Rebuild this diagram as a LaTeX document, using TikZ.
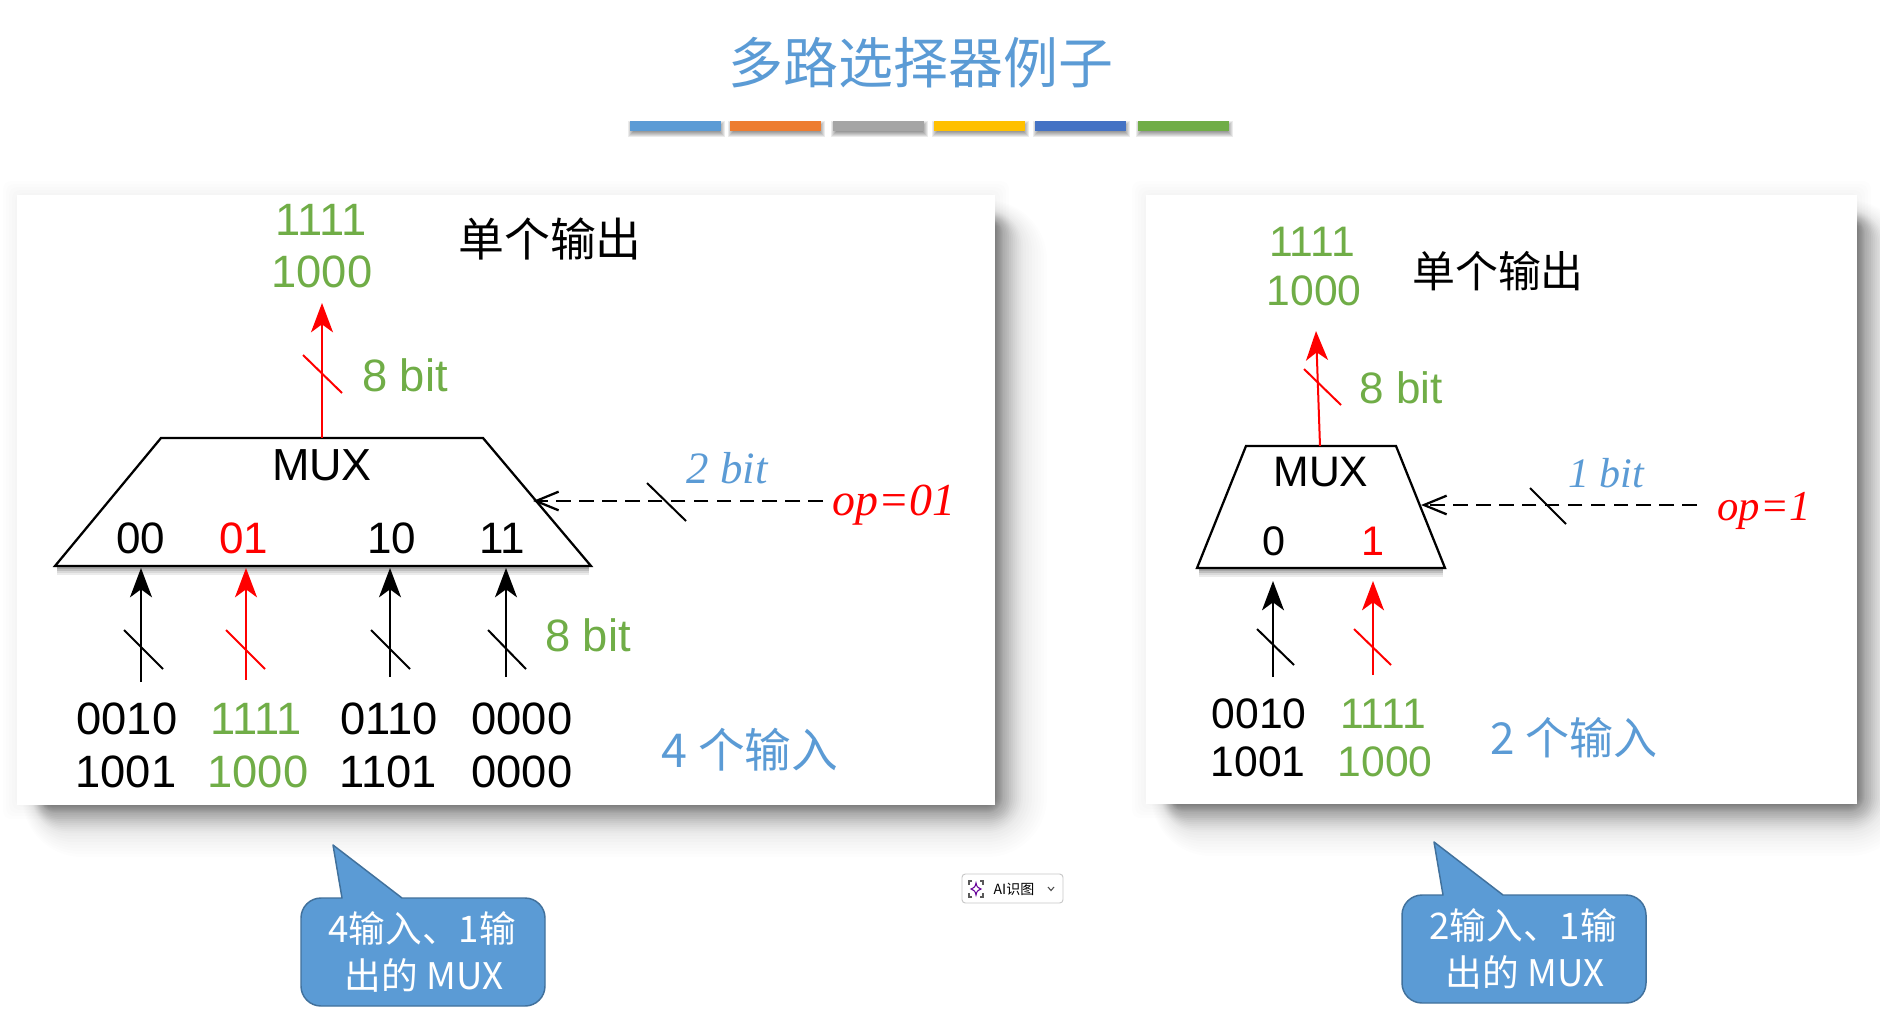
\documentclass[tikz,border=0pt]{standalone}
\usepackage{fontspec}
\usetikzlibrary{arrows.meta}
\setmainfont{Liberation Sans}
\newfontfamily\cjkfont{Noto Sans CJK SC}
\newfontfamily\timesfont{Liberation Serif}
\newcommand{\pxfont}[1]{\fontsize{#1}{#1}\selectfont}
\definecolor{cblue}{HTML}{5B9BD5}
\definecolor{corange}{HTML}{ED7D31}
\definecolor{cgray}{HTML}{A5A5A5}
\definecolor{cyellow}{HTML}{FFC000}
\definecolor{cdblue}{HTML}{4472C4}
\definecolor{cgreen}{HTML}{70AD47}
\definecolor{cedge}{HTML}{41719C}
\definecolor{cred}{HTML}{FF0000}
\newcommand{\softshadow}[4]{%
  \foreach \g in {14,11,8,5,2}
    \fill[black,opacity=.008,rounded corners=6pt]
      ({#1-\g},{#2-\g}) rectangle ({#3+\g},{#4+\g});
  \foreach \r/\o in {52/.006,49/.006,46/.006,43/.008,40/.008,37/.01,34/.01,31/.012,28/.015,26/.018,24/.02,22/.025,20/.025,18/.03,16/.03,14/.03,12/.03,10/.03,8/.03,7/.03,6/.03,5/.03,4/.03,3/.03,2/.03,1/.03,0/.03}{
    \pgfmathsetmacro\rr{(\r+8)*0.75}
    \fill[black,opacity=\o,rounded corners=\rr pt]
      ({#1+26-0.4*\r},{#2+26-0.4*\r}) rectangle ({#3+\r},{#4+\r});}}
\tikzset{
  px/.style={x=0.75pt,y=-0.75pt},
  txt/.style={inner sep=0,outer sep=0,font=\pxfont{#1}},
  cjk/.style={inner sep=0,outer sep=0,font=\cjkfont\pxfont{#1}},
  ital/.style={inner sep=0,outer sep=0,font=\timesfont\itshape\pxfont{#1}},
  wire/.style={line width=1.5pt,-{Stealth[length=22pt,width=16.5pt,inset=6pt]}},
  tick/.style={line width=1.5pt},
  ctrl/.style={line width=1.9pt,dash pattern=on 11pt off 6.2pt,-{Straight Barb[length=17pt,width=14pt,line width=1.7pt]}},
  mux/.style={line width=1.7pt,line join=miter,fill=white},
  panel/.style={fill=white},
  callout/.style={fill=cblue,draw=cedge,line width=1.1pt,line join=round},
  bubbletext/.style={text=white,inner sep=0,outer sep=0,font=\cjkfont\pxfont{27.5}},
}
\begin{document}
\begin{tikzpicture}[px]
\useasboundingbox (0,0) rectangle (1880,1035);
\fill[white] (0,0) rectangle (1880,1035);

% title and colour bars
\node[cjk=41.2,text=cblue] (title) at (921,63) {多路选择器例子};
\foreach \a/\b/\c in {630/721/cblue,730/821/corange,833/924/cgray,934/1025/cyellow,1035/1126/cdblue,1138/1229/cgreen}{
  \foreach \r in {-2,-1,...,3}
    \fill[black,opacity=.08] ({\a+1-\r},{124-\r}) rectangle ({\b+1+\r},{134+\r});
  \fill[\c] (\a,121) rectangle (\b,131);
}

% panels
\softshadow{17}{195}{995}{805}
\softshadow{1146}{195}{1857}{804}
\fill[panel] (17,195) rectangle (995,805);
\fill[panel] (1146,195) rectangle (1857,804);

% ---------- left MUX ----------
\coordinate (ltl) at (161,438);
\coordinate (ltr) at (483,438);
\coordinate (lbr) at (591,566);
\coordinate (lbl) at (55,566);
\foreach \d/\o in {2/.35,4/.25,6/.15,8/.08}
  \draw[black,opacity=\o,line width=2pt] (57,566+\d) -- (589,566+\d);
\draw[mux] (ltl) -- (ltr) -- (lbr) -- (lbl) -- cycle;
\node[txt=33.7] (lmux) at (322,465) {MUX};
\node[txt=33] (l00) at (141,538) {00};
\node[txt=33,text=cred] (l01) at (244,538) {01};
\node[txt=33] (l10) at (392,538) {10};
\node[txt=33] (l11) at (502,538) {11};

\node[txt=34,text=cgreen] (lo1) at (321,220) {1111};
\node[txt=34,text=cgreen] (lo2) at (322,272) {1000};
\node[cjk=34.4] (lsingle) at (550,239) {单个输出};
\node[txt=34,text=cgreen] (lb8a) at (405,375) {8 bit};
\node[txt=34,text=cgreen] (lb8b) at (588,635) {8 bit};
\node[ital=33.6,text=cblue] (lb2) at (727,468) {2 bit};
\node[ital=34.4,text=cred] (lop) at (894,505) {op=01};
\node[cjk=35,text=cblue] (lfour) at (750,750) {4 个输入};

\coordinate (lout0) at (322,438);
\coordinate (lout1) at (322,303);
\draw[wire,cred] (lout0) -- (lout1);
\coordinate (lt0a) at (303,355); \coordinate (lt0b) at (342,393);
\draw[tick,cred] (lt0a) -- (lt0b);

\foreach \n/\x/\ys/\c/\ta/\tb in {a/141/682/black/124/163,b/246/680/cred/226/265,c/390/677/black/371/410,d/506/677/black/488/526}{
  \coordinate (li\n0) at (\x,\ys);
  \coordinate (li\n1) at (\x,568);
  \draw[wire,\c] (li\n0) -- (li\n1);
  \coordinate (lt\n a) at (\ta,630);
  \coordinate (lt\n b) at (\tb,669);
  \draw[tick,\c] (lt\n a) -- (lt\n b);
}
\node[txt=34] (ln1) at (127,719) {0010};
\node[txt=34] (ln2) at (126,772) {1001};
\node[txt=34,text=cgreen] (ln3) at (256,719) {1111};
\node[txt=34,text=cgreen] (ln4) at (258,772) {1000};
\node[txt=34] (ln5) at (389,719) {0110};
\node[txt=34] (ln6) at (388,772) {1101};
\node[txt=34] (ln7) at (522,719) {0000};
\node[txt=34] (ln8) at (522,772) {0000};

\coordinate (lc0) at (823,501);
\coordinate (lc1) at (533,501);
\draw[ctrl] (lc0) -- (lc1);
\coordinate (lct0) at (647,483); \coordinate (lct1) at (686,521);
\draw[tick] (lct0) -- (lct1);

% ---------- right MUX ----------
\coordinate (rtl) at (1246,446);
\coordinate (rtr) at (1396,446);
\coordinate (rbr) at (1445,568);
\coordinate (rbl) at (1197,568);
\foreach \d/\o in {2/.35,4/.25,6/.15,8/.08}
  \draw[black,opacity=\o,line width=2pt] (1199,568+\d) -- (1443,568+\d);
\draw[mux] (rtl) -- (rtr) -- (rbr) -- (rbl) -- cycle;
\node[txt=32] (rmux) at (1321,472) {MUX};
\node[txt=31] (r0) at (1274,541) {0};
\node[txt=31,text=cred] (r1) at (1373,541) {1};

\node[txt=32,text=cgreen] (ro1) at (1312,242) {1111};
\node[txt=32,text=cgreen] (ro2) at (1314,291) {1000};
\node[cjk=32.2] (rsingle) at (1498,271) {单个输出};
\node[txt=33,text=cgreen] (rb8) at (1401,388) {8 bit};
\node[ital=31.5,text=cblue] (rb1) at (1606,473) {1 bit};
\node[ital=32,text=cred] (rop) at (1764,511) {op=1};
\node[cjk=33,text=cblue] (rtwo) at (1574,738) {2 个输入};

\coordinate (rout0) at (1320,446);
\coordinate (rout1) at (1316,331);
\draw[wire,cred] (rout0) -- (rout1);
\coordinate (rt0a) at (1304,369); \coordinate (rt0b) at (1341,405);
\draw[tick,cred] (rt0a) -- (rt0b);

\coordinate (ria0) at (1273,677); \coordinate (ria1) at (1273,581);
\draw[wire] (ria0) -- (ria1);
\coordinate (rib0) at (1373,675); \coordinate (rib1) at (1373,581);
\draw[wire,cred] (rib0) -- (rib1);
\coordinate (rta0) at (1257,629); \coordinate (rta1) at (1294,665);
\draw[tick] (rta0) -- (rta1);
\coordinate (rtb0) at (1354,629); \coordinate (rtb1) at (1391,665);
\draw[tick,cred] (rtb0) -- (rtb1);

\node[txt=32] (rn1) at (1259,714) {0010};
\node[txt=32] (rn2) at (1258,762) {1001};
\node[txt=32,text=cgreen] (rn3) at (1383,714) {1111};
\node[txt=32,text=cgreen] (rn4) at (1385,762) {1000};

\coordinate (rc0) at (1697,505);
\coordinate (rc1) at (1421,505);
\draw[ctrl] (rc0) -- (rc1);
\coordinate (rct0) at (1530,488); \coordinate (rct1) at (1566,524);
\draw[tick] (rct0) -- (rct1);

% ---------- callouts ----------
\draw[callout] (342,898) [sharp corners] -- (333,845) -- (402,898) [rounded corners=15pt] -- (545,898) -- (545,1006) -- (301,1006) -- (301,898) [sharp corners] -- (342,898) -- cycle;
\node[bubbletext] (cl1) at (422,928) {4输入、1输};
\node[bubbletext] (cl2) at (424,975) {出的 MUX};
\draw[callout] (1443,895) [sharp corners] -- (1434,842) -- (1503,895) [rounded corners=15pt] -- (1646,895) -- (1646,1003) -- (1402,1003) -- (1402,895) [sharp corners] -- (1443,895) -- cycle;
\node[bubbletext] (cr1) at (1523,925) {2输入、1输};
\node[bubbletext] (cr2) at (1525,972) {出的 MUX};

% ---------- AI button ----------
\draw[draw=black!22,fill=white,line width=.7pt,rounded corners=2.5pt] (962,874) rectangle (1063,903);
\draw[black!65,line width=.8pt] (972,881) -- (969,881) -- (969,885);
\draw[black!65,line width=.8pt] (980,881) -- (983,881) -- (983,885);
\draw[black!65,line width=.8pt] (972,897) -- (969,897) -- (969,893);
\draw[black!65,line width=.8pt] (980,897) -- (983,897) -- (983,893);
\draw[violet!80!blue,line width=.8pt] (976,883) .. controls (977,887) .. (981,889) .. controls (977,891) .. (976,895) .. controls (975,891) .. (971,889) .. controls (975,887) .. cycle;
\node[inner sep=0,outer sep=0,font=\cjkfont\pxfont{10.5}] (aitext) at (1014,889) {AI识图};
\draw[black!70,line width=.8pt] (1048,887) -- (1051,890.5) -- (1054,887);
\end{tikzpicture}
\end{document}
